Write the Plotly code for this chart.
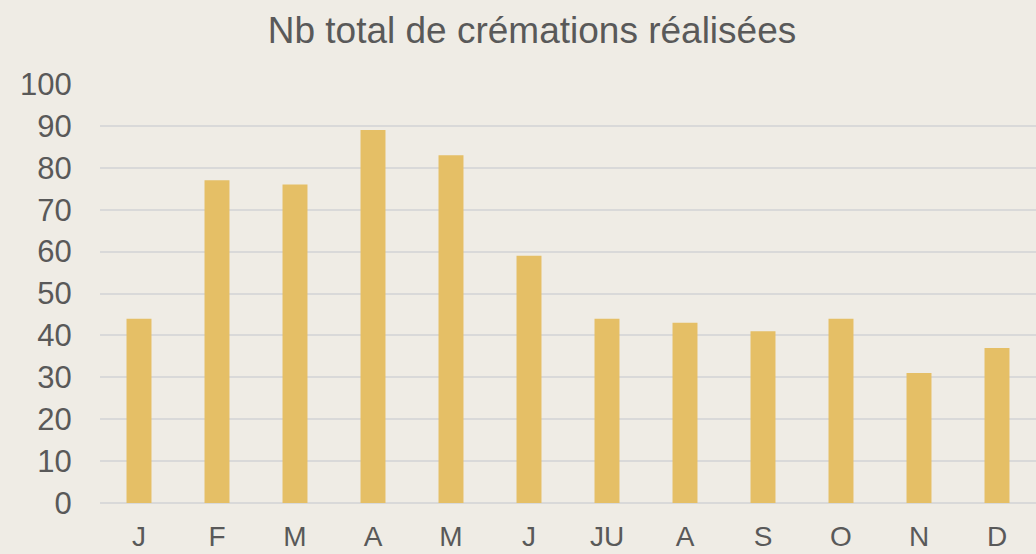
import plotly.graph_objects as go

months = ["J", "F", "M", "A", "M", "J", "JU", "A", "S", "O", "N", "D"]
values = [44, 77, 76, 89, 83, 59, 44, 43, 41, 44, 31, 37]
y_ticks = list(range(0, 101, 10))
title = "Nb total de crémations réalisées"

positions = list(range(len(months)))

fig = go.Figure(
    go.Bar(
        x=positions,
        y=values,
        marker=dict(color="#E5BF66", line=dict(width=0)),
        hoverinfo="y",
    )
)

font_family = "Liberation Sans, Arial, sans-serif"
fig.update_layout(
    width=1036,
    height=554,
    paper_bgcolor="#EFECE5",
    plot_bgcolor="#EFECE5",
    margin=dict(l=100, r=0, t=84, b=51, autoexpand=False),
    bargap=0.68,
    showlegend=False,
    title=dict(
        text=title,
        x=0.5135,
        xref="container",
        y=0.945,
        yref="container",
        xanchor="center",
        yanchor="middle",
        font=dict(family=font_family, size=37, color="#595959"),
    ),
    xaxis=dict(
        tickmode="array",
        tickvals=positions,
        ticktext=months,
        range=[-0.5, len(months) - 0.5],
        showgrid=False,
        zeroline=False,
        showline=False,
        automargin=False,
        ticks="outside",
        ticklen=8,
        tickcolor="rgba(0,0,0,0)",
        tickfont=dict(family=font_family, size=28, color="#595959"),
    ),
    yaxis=dict(
        range=[0, 100],
        tickmode="array",
        tickvals=y_ticks,
        showgrid=True,
        gridcolor="#D9D9D9",
        gridwidth=1.5,
        zeroline=True,
        zerolinecolor="#D9D9D9",
        zerolinewidth=1.5,
        showline=False,
        automargin=False,
        ticks="outside",
        ticklen=21,
        tickcolor="rgba(0,0,0,0)",
        tickfont=dict(family=font_family, size=31, color="#595959"),
    ),
)

fig.write_html(
    "out.html",
    config={"displayModeBar": False},
    post_script="document.body.style.margin='0';document.body.style.overflow='hidden';",
)
